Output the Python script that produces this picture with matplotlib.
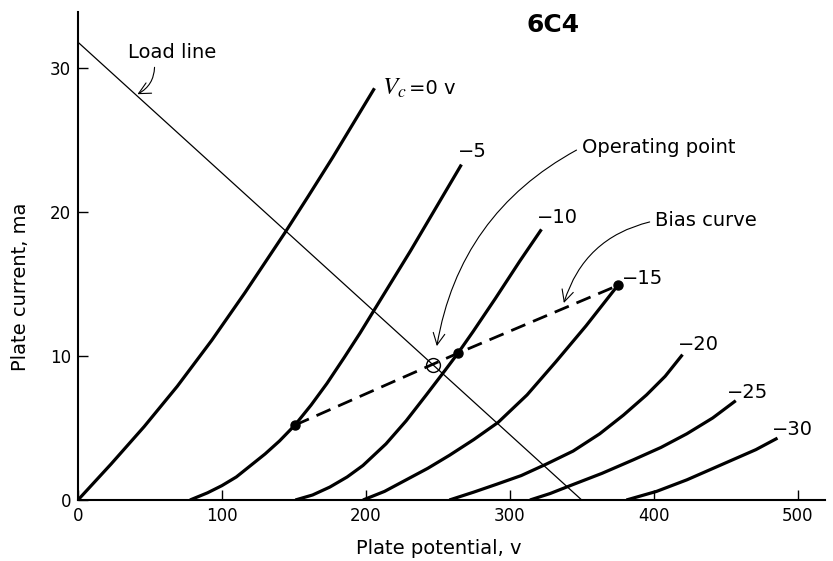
import matplotlib
matplotlib.use('Agg')
import matplotlib.pyplot as plt

plt.rcParams['font.family'] = 'DejaVu Sans'
plt.rcParams['mathtext.fontset'] = 'stix'

# plate characteristics of the 6C4 triode, one list per grid voltage
grid_volts = [0, -5, -10, -15, -20, -25, -30]
plate_v = [
    [0, 23, 46, 69, 93, 116, 144, 160, 177, 206],
    [77.8, 90, 100, 110, 120, 130, 140, 150.7, 162, 173, 185, 196, 231, 266.4],
    [151, 163, 175, 187, 198, 214, 228, 242, 255, 264, 274.5, 290, 307, 322],
    [198, 213, 228, 243, 258, 275, 292, 312, 332, 353, 375],
    [258, 275, 291, 308, 325.5, 344, 362.5, 379, 395, 408, 420],
    [314, 328, 342, 364, 386, 405, 423, 441, 457],
    [381, 402, 423, 439, 455, 471, 486],
]
plate_ma = [
    [0, 2.5, 5.1, 7.9, 11.1, 14.4, 18.6, 21.1, 23.8, 28.6],
    [0, 0.5, 1.0, 1.6, 2.4, 3.2, 4.1, 5.2, 6.6, 8.1, 9.9, 11.6, 17.3, 23.3],
    [0, 0.35, 0.9, 1.6, 2.4, 3.9, 5.5, 7.3, 9.0, 10.2, 11.7, 14.0, 16.6, 18.8],
    [0, 0.6, 1.4, 2.2, 3.1, 4.2, 5.4, 7.3, 9.6, 12.1, 14.9],
    [0, 0.55, 1.1, 1.7, 2.5, 3.4, 4.6, 5.9, 7.3, 8.6, 10.1],
    [0, 0.45, 1.0, 1.85, 2.8, 3.65, 4.6, 5.7, 6.9],
    [0, 0.6, 1.4, 2.1, 2.8, 3.5, 4.3],
]

# curve label anchors (left edge of the text)
label_x = [211, 264, 319, 378, 417, 451, 482]
label_y = [28.6, 24.2, 19.6, 15.4, 10.8, 7.5, 4.9]
label_text = ['0 v', '\u22125', '\u221210', '\u221215', '\u221220', '\u221225', '\u221230']

# load line end points
load_v = [0, 350]
load_ma = [31.8, 0]

# bias curve points and the operating point
bias_v = [150.7, 264, 375]
bias_ma = [5.2, 10.2, 14.9]
op_v, op_ma = 247, 9.4

fig = plt.figure(figsize=(8.33, 5.61), dpi=100)
ax = fig.add_axes([0.0936, 0.1087, 0.8968, 0.870])

for xs, ys in zip(plate_v, plate_ma):
    ax.plot(xs, ys, color='black', lw=2.3, solid_capstyle='butt', solid_joinstyle='round')

# the zero-bias curve gets the full "Vc = 0 v" label
ax.text(label_x[0], label_y[0], r'$V_c$', fontsize=18, ha='left', va='center')
ax.text(label_x[0] + 19, label_y[0], '=' + label_text[0], fontsize=14, ha='left', va='center')
for x, y, t in zip(label_x[1:], label_y[1:], label_text[1:]):
    ax.text(x, y, t, fontsize=14, ha='left', va='center')

ax.plot(load_v, load_ma, color='black', lw=0.9)

ax.plot(bias_v, bias_ma, color='black', lw=2.0, dashes=(5.5, 3))
ax.plot(bias_v, bias_ma, 'o', color='black', ms=6.5, ls='none')
ax.plot([op_v], [op_ma], 'o', mfc='none', mec='black', mew=1.0, ms=10)

arrow_kw = dict(arrowstyle='->,head_length=0.6,head_width=0.3', color='black', lw=0.8)
ax.annotate('Load line', xy=(39.6, 28.1), xytext=(34.7, 31.1), fontsize=14,
            ha='left', va='center',
            arrowprops=dict(connectionstyle='arc3,rad=-0.35', relpos=(0.3, 0), **arrow_kw))
ax.annotate('Operating point', xy=(249, 10.5), xytext=(350, 24.5), fontsize=14,
            ha='left', va='center',
            arrowprops=dict(connectionstyle='arc3,rad=0.25', relpos=(0, 0.5), **arrow_kw))
ax.annotate('Bias curve', xy=(337, 13.5), xytext=(401, 19.4), fontsize=14,
            ha='left', va='center',
            arrowprops=dict(connectionstyle='arc3,rad=0.3', relpos=(0, 0.5), **arrow_kw))

ax.text(330, 33.0, '6C4', fontsize=18, fontweight='bold', ha='center', va='center')

ax.set_xlim(0, 519)
ax.set_ylim(0, 33.9)
ax.set_xticks([0, 100, 200, 300, 400, 500])
ax.set_yticks([0, 10, 20, 30])
ax.tick_params(direction='in', length=7, width=1.0, labelsize=12)
ax.tick_params(axis='x', pad=5)
ax.tick_params(axis='y', pad=5)

for side in ['top', 'right']:
    ax.spines[side].set_visible(False)
for side in ['left', 'bottom']:
    ax.spines[side].set_linewidth(1.5)

ax.set_xlabel('Plate potential, v', fontsize=14)
ax.set_ylabel('Plate current, ma', fontsize=14)
ax.xaxis.set_label_coords(0.483, -0.080)
ax.yaxis.set_label_coords(-0.064, 0.437)

fig.savefig('out.png', dpi=100)
